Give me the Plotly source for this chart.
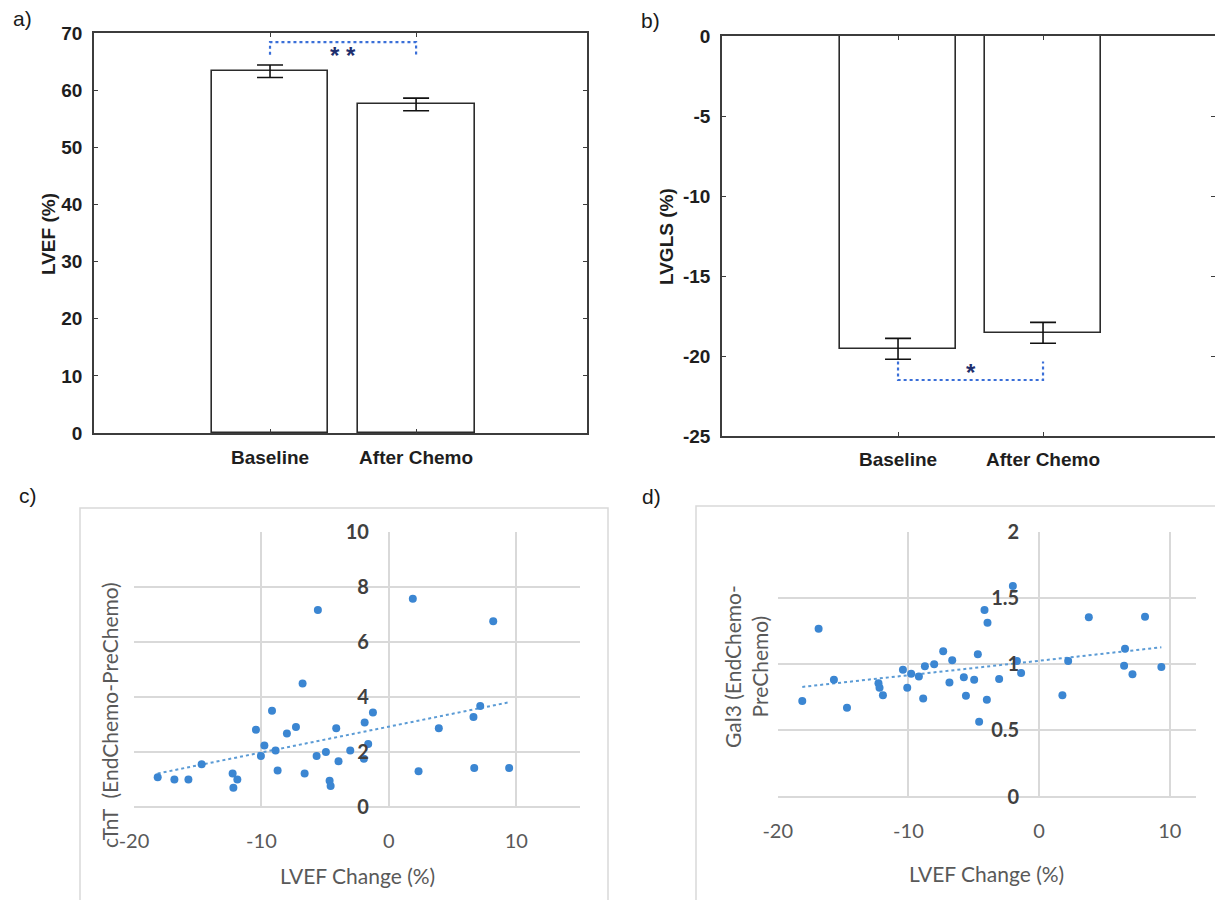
import numpy as np
import plotly.graph_objects as go

# ---------------- data ----------------
groups = ["Baseline", "After Chemo"]
lvef_mean = [63.3, 57.5]
lvef_err = [1.1, 1.1]
lvgls_mean = [-19.55, -18.55]
lvgls_err = [0.65, 0.65]

lvef_ticks = [0, 10, 20, 30, 40, 50, 60, 70]
lvgls_ticks = [0, -5, -10, -15, -20, -25]
lvgls_ticktext = ["0", "-5", "-10", "-15", "-20", "-25"]

change_ticks = [-20, -10, 0, 10]
change_ticktext = ["-20", "-10", "0", "10"]

ctnt_x = [-18.14, -16.83, -15.73, -14.69, -12.26, -11.89, -12.2, -10.43, -10.04, -9.77,
          -9.17, -8.89, -8.73, -8.0, -7.29, -6.77, -6.61, -5.57, -5.67, -4.94,
          -4.65, -4.57, -4.13, -3.95, -3.03, -1.9, -1.96, -1.62, -1.25, 1.88,
          2.33, 3.92, 6.64, 6.7, 7.17, 8.19, 9.44]
ctnt_y = [1.08, 1.0, 1.0, 1.55, 1.22, 1.0, 0.7, 2.81, 1.85, 2.23,
          3.5, 2.05, 1.33, 2.67, 2.91, 4.49, 1.22, 7.16, 1.85, 2.0,
          0.95, 0.76, 2.86, 1.66, 2.05, 3.07, 1.75, 2.29, 3.43, 7.56,
          1.3, 2.86, 3.27, 1.42, 3.67, 6.75, 1.42]

gal3_x = [-18.12, -16.87, -15.7, -14.7, -12.29, -12.21, -11.95, -10.42, -10.09, -9.79,
          -9.2, -8.87, -8.74, -8.03, -7.34, -6.86, -6.65, -5.76, -5.6, -4.97,
          -4.69, -4.59, -4.18, -4.0, -3.95, -3.06, -2.01, -1.7, -1.38, 1.78,
          2.22, 3.8, 6.5, 6.57, 7.14, 8.1, 9.35]
gal3_y = [0.722, 1.268, 0.883, 0.672, 0.856, 0.823, 0.765, 0.958, 0.823, 0.928,
          0.908, 0.742, 0.984, 1.0, 1.097, 0.861, 1.029, 0.901, 0.762, 0.883,
          1.075, 0.566, 1.409, 0.732, 1.313, 0.888, 1.59, 1.024, 0.934, 0.765,
          1.024, 1.354, 0.989, 1.117, 0.924, 1.359, 0.979]

# ---------------- styling ----------------
W, H = 1215, 900
def px(x):
    return x / W
def py(y):
    return 1 - y / H

MAT_FONT = "Liberation Sans, Arial, sans-serif"
XL_FONT = "Lato, Carlito, Calibri, sans-serif"
AX_COL = "#3c3c3c"
GRID = "#d9d9d9"
DOT_BLUE = "#3b86d2"
TREND = "#5b9bd5"
SIG = "#3a6fd8"

fig = go.Figure()

# --- panel a ---
fig.add_trace(go.Bar(
    x=groups, y=lvef_mean, width=0.8,
    marker=dict(color="white", line=dict(color="#2b2b2b", width=1.6)),
    error_y=dict(type="data", array=lvef_err, color="#111", thickness=1.6, width=13),
    xaxis="x", yaxis="y", showlegend=False))
fig.add_trace(go.Scatter(
    x=[groups[0], groups[0], groups[1], groups[1]], y=[66.2, 68.4, 68.4, 66.2],
    mode="lines", line=dict(color=SIG, width=2.2, dash="dot"),
    xaxis="x", yaxis="y", showlegend=False, hoverinfo="skip"))

# --- panel b ---
fig.add_trace(go.Bar(
    x=groups, y=lvgls_mean, width=0.8,
    marker=dict(color="white", line=dict(color="#2b2b2b", width=1.6)),
    error_y=dict(type="data", array=lvgls_err, color="#111", thickness=1.6, width=13),
    xaxis="x2", yaxis="y2", showlegend=False))
fig.add_trace(go.Scatter(
    x=[groups[0], groups[0], groups[1], groups[1]], y=[-20.35, -21.5, -21.5, -20.35],
    mode="lines", line=dict(color=SIG, width=2.2, dash="dot"),
    xaxis="x2", yaxis="y2", showlegend=False, hoverinfo="skip"))

# --- panel c ---
cx = np.array(ctnt_x); cy = np.array(ctnt_y)
cs, ci = np.polyfit(cx, cy, 1)
cxl = np.array([cx.min(), cx.max()])
fig.add_trace(go.Scatter(x=cxl, y=cs * cxl + ci, mode="lines",
                         line=dict(color=TREND, width=2, dash="dot"),
                         xaxis="x3", yaxis="y3", showlegend=False))
fig.add_trace(go.Scatter(x=ctnt_x, y=ctnt_y, mode="markers",
                         marker=dict(color=DOT_BLUE, size=8),
                         xaxis="x3", yaxis="y3", showlegend=False))

# --- panel d ---
gx = np.array(gal3_x); gy = np.array(gal3_y)
gs, gi = np.polyfit(gx, gy, 1)
gxl = np.array([gx.min(), gx.max()])
fig.add_trace(go.Scatter(x=gxl, y=gs * gxl + gi, mode="lines",
                         line=dict(color=TREND, width=2, dash="dot"),
                         xaxis="x4", yaxis="y4", showlegend=False))
fig.add_trace(go.Scatter(x=gal3_x, y=gal3_y, mode="markers",
                         marker=dict(color=DOT_BLUE, size=8),
                         xaxis="x4", yaxis="y4", showlegend=False))

mat_tick = dict(family=MAT_FONT, size=19, color="#1e1e1e", weight="bold")
mat_axis = dict(showline=True, linecolor=AX_COL, linewidth=1.5, mirror="ticks",
                ticks="inside", ticklen=4, tickcolor=AX_COL, tickwidth=1.2,
                showgrid=False, zeroline=False, tickfont=mat_tick, automargin=False)

xl_xaxis = dict(showline=False, showgrid=True, gridcolor=GRID, gridwidth=1.5,
                zeroline=False, ticks="", tickvals=change_ticks, ticktext=change_ticktext,
                tickfont=dict(family=XL_FONT, size=20, color="#595959"),
                ticklabelstandoff=20, automargin=False)
xl_yaxis = dict(showline=False, showgrid=True, gridcolor=GRID, gridwidth=1.5,
                zeroline=True, zerolinecolor=GRID, zerolinewidth=1.5, ticks="",
                tickfont=dict(family=XL_FONT, size=20, color="#404040", weight="bold"),
                ticklabelstandoff=20, anchor="free", automargin=False)

xa_dom = [px(94), px(587)]
xb_dom = [px(722), 1.0]
xc_dom = [px(134), px(580)]
xd_dom = [px(777.7), px(1196)]
xc_range = [-20, 15]
xd_range = [-20, 12]
yc_pos = xc_dom[0] + (0 - xc_range[0]) / (xc_range[1] - xc_range[0]) * (xc_dom[1] - xc_dom[0])
yd_pos = xd_dom[0] + (0 - xd_range[0]) / (xd_range[1] - xd_range[0]) * (xd_dom[1] - xd_dom[0])

fig.update_layout(
    width=W, height=H, margin=dict(l=0, r=0, t=0, b=0, pad=0),
    paper_bgcolor="white", plot_bgcolor="white", bargap=0,
    xaxis=dict(domain=xa_dom, anchor="y", range=[-1.205, 2.17], type="category",
               ticklabelstandoff=6, **mat_axis),
    yaxis=dict(domain=[py(433), py(33)], anchor="x", range=[0, 70], tickvals=lvef_ticks,
               ticklabelstandoff=6, **mat_axis),
    xaxis2=dict(domain=xb_dom, anchor="y2", range=[-1.214, 2.186], type="category",
                ticklabelstandoff=5, **mat_axis),
    yaxis2=dict(domain=[py(436), py(36)], anchor="x2", range=[-25, 0],
                tickvals=lvgls_ticks, ticktext=lvgls_ticktext,
                ticklabelstandoff=6, **mat_axis),
    xaxis3=dict(domain=xc_dom, anchor="y3", range=xc_range, **xl_xaxis),
    yaxis3=dict(domain=[py(807), py(531.7)], range=[0, 10], dtick=2,
                position=yc_pos, **xl_yaxis),
    xaxis4=dict(domain=xd_dom, anchor="y4", range=xd_range, **xl_xaxis),
    yaxis4=dict(domain=[py(796.7), py(531.7)], range=[0, 2], dtick=0.5,
                position=yd_pos, **xl_yaxis),
)

shapes = [
    dict(type="rect", xref="paper", yref="paper", x0=px(80), x1=px(608), y0=-0.02, y1=py(508),
         line=dict(color=GRID, width=1.5), fillcolor="rgba(0,0,0,0)", layer="below"),
    dict(type="rect", xref="paper", yref="paper", x0=px(696), x1=1.02, y0=-0.02, y1=py(506),
         line=dict(color=GRID, width=1.5), fillcolor="rgba(0,0,0,0)", layer="below"),
]
fig.update_layout(shapes=shapes)

lab_font = dict(family=MAT_FONT, size=21, color="#1a1a1a")
ttl_mat = dict(family=MAT_FONT, size=19, color="#1e1e1e", weight="bold")
ttl_xl = dict(family=XL_FONT, size=21, color="#595959")
annots = [
    dict(text="a)", x=px(22), y=py(18), font=lab_font),
    dict(text="b)", x=px(650), y=py(21), font=lab_font),
    dict(text="c)", x=px(28), y=py(495), font=lab_font),
    dict(text="d)", x=px(651), y=py(496), font=lab_font),
    dict(text="LVEF (%)", x=px(48), y=py(234), font=ttl_mat, textangle=-90),
    dict(text="LVGLS (%)", x=px(667), y=py(237), font=ttl_mat, textangle=-90),
    dict(text="cTnT&nbsp; (EndChemo-PreChemo)", x=px(109), y=py(715), font=ttl_xl, textangle=-90),
    dict(text="LVEF Change (%)", x=px(357), y=py(875), font=ttl_xl),
    dict(text="Gal3 (EndChemo-<br>PreChemo)", x=px(746), y=py(667), font=ttl_xl, textangle=-90),
    dict(text="LVEF Change (%)", x=px(986), y=py(873), font=ttl_xl),
]
for a in annots:
    a.update(xref="paper", yref="paper", showarrow=False, xanchor="center", yanchor="middle")
annots += [
    dict(text="* *", x=0.5, y=66.0, xref="x", yref="y", showarrow=False,
         font=dict(family=MAT_FONT, size=24, color="#1f2f6e", weight="bold"), yanchor="middle"),
    dict(text="*", x=0.5, y=-21.0, xref="x2", yref="y2", showarrow=False,
         font=dict(family=MAT_FONT, size=24, color="#1f2f6e", weight="bold"), yanchor="middle"),
]
fig.update_layout(annotations=annots)

fig.write_html("out.html",
               config={"displayModeBar": False},
               post_script="document.body.style.margin='0';document.body.style.overflow='hidden';")
